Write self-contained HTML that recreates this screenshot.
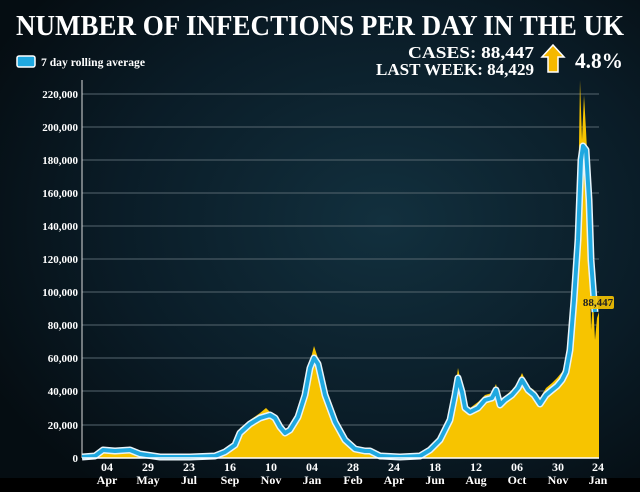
<!DOCTYPE html>
<html><head><style>
html,body{margin:0;padding:0;}
body{width:640px;height:492px;overflow:hidden;background:#000;}
svg{display:block;}
text{font-family:"Liberation Serif",serif;font-weight:bold;}
</style></head><body>
<svg width="640" height="492" viewBox="0 0 640 492">
<defs>
<radialGradient id="bg" cx="0.6" cy="0.45" r="0.7">
<stop offset="0" stop-color="#12303e"/>
<stop offset="0.6" stop-color="#0a1c27"/>
<stop offset="1" stop-color="#050d12"/>
</radialGradient>
</defs>
<rect width="640" height="492" fill="url(#bg)"/>
<rect y="478" width="640" height="14" fill="#000"/>
<text x="320" y="35" text-anchor="middle" fill="#fff" font-size="29" textLength="608" lengthAdjust="spacingAndGlyphs">NUMBER OF INFECTIONS PER DAY IN THE UK</text>
<text x="534" y="58" text-anchor="end" fill="#fff" font-size="17" textLength="126" lengthAdjust="spacingAndGlyphs">CASES: 88,447</text>
<text x="534" y="75" text-anchor="end" fill="#fff" font-size="17" textLength="158" lengthAdjust="spacingAndGlyphs">LAST WEEK: 84,429</text>
<path d="M553,45 L564,57 L558,57 L558,72 L548,72 L548,57 L542,57 Z" fill="#f5b800" stroke="#fff" stroke-width="1.5"/>
<text x="575" y="68" fill="#fff" font-size="22" textLength="48" lengthAdjust="spacingAndGlyphs">4.8%</text>
<rect x="17" y="56" width="18" height="11" rx="2" fill="#1fa8e0" stroke="#fff" stroke-width="1.5"/>
<text x="41" y="66" fill="#fff" font-size="12" textLength="104" lengthAdjust="spacingAndGlyphs">7 day rolling average</text>
<g stroke="#56666f" stroke-width="1">
<line x1="82" y1="94" x2="599" y2="94"/><line x1="82" y1="127" x2="599" y2="127"/>
<line x1="82" y1="160" x2="599" y2="160"/><line x1="82" y1="193" x2="599" y2="193"/>
<line x1="82" y1="226" x2="599" y2="226"/><line x1="82" y1="259" x2="599" y2="259"/>
<line x1="82" y1="292" x2="599" y2="292"/><line x1="82" y1="325" x2="599" y2="325"/>
<line x1="82" y1="358" x2="599" y2="358"/><line x1="82" y1="391" x2="599" y2="391"/>
<line x1="82" y1="425" x2="599" y2="425"/>
</g>
<line x1="82" y1="80" x2="82" y2="458" stroke="#ddd" stroke-width="1"/>
<g fill="#fff" font-size="11" text-anchor="end">
<text x="78" y="98">220,000</text><text x="78" y="131">200,000</text>
<text x="78" y="164">180,000</text><text x="78" y="197">160,000</text>
<text x="78" y="230">140,000</text><text x="78" y="263">120,000</text>
<text x="78" y="296">100,000</text><text x="78" y="329">80,000</text>
<text x="78" y="362">60,000</text><text x="78" y="395">40,000</text>
<text x="78" y="429">20,000</text><text x="78" y="462">0</text>
</g>
<path d="M82,458 L82,456 L95,455 L103,447 L115,448 L130,447 L140,453 L160,456 L190,456 L215,455 L225,450 L235,441 L240,428 L250,420 L260,413 L266,408 L270,412 L275,415 L280,425 L285,431 L290,427 L298,412 L305,390 L310,362 L314,346 L318,358 L325,392 L335,420 L345,438 L355,448 L365,449 L370,449 L380,455 L400,456 L420,455 L430,448 L440,437 L450,416 L455,390 L458,368 L462,388 L465,405 L470,408 L478,402 L485,395 L492,393 L496,384 L500,402 L505,396 L512,390 L518,382 L522,373 L528,386 L534,390 L540,398 L546,388 L552,383 L557,378 L562,372 L566,362 L570,335 L574,280 L578,210 L580,80 L582,140 L584,95 L586,130 L589,190 L591,330 L593,300 L595,340 L597,318 L599,312 L599,458 Z" fill="#f7c400"/>
<path d="M82,457 L95,456 L103,450 L115,451 L130,450 L140,454 L160,457 L190,457 L215,456 L225,452 L235,445 L240,433 L250,424 L260,418 L270,415 L275,418 L280,427 L285,433 L290,430 L298,417 L305,395 L310,368 L314,358 L318,364 L325,395 L335,422 L345,440 L355,449 L365,451 L370,451 L380,456 L400,457 L420,456 L430,450 L440,440 L450,420 L455,395 L458,378 L462,392 L465,408 L470,412 L478,408 L485,400 L492,398 L496,390 L500,405 L505,400 L512,395 L518,388 L522,380 L528,390 L534,395 L540,404 L546,395 L552,390 L557,386 L562,380 L566,372 L570,350 L574,300 L578,240 L581,160 L583,146 L586,150 L589,200 L591,260 L594,300 L595,312" fill="none" stroke="#e8f4fa" stroke-width="7" stroke-linejoin="round"/>
<path d="M82,457 L95,456 L103,450 L115,451 L130,450 L140,454 L160,457 L190,457 L215,456 L225,452 L235,445 L240,433 L250,424 L260,418 L270,415 L275,418 L280,427 L285,433 L290,430 L298,417 L305,395 L310,368 L314,358 L318,364 L325,395 L335,422 L345,440 L355,449 L365,451 L370,451 L380,456 L400,457 L420,456 L430,450 L440,440 L450,420 L455,395 L458,378 L462,392 L465,408 L470,412 L478,408 L485,400 L492,398 L496,390 L500,405 L505,400 L512,395 L518,388 L522,380 L528,390 L534,395 L540,404 L546,395 L552,390 L557,386 L562,380 L566,372 L570,350 L574,300 L578,240 L581,160 L583,146 L586,150 L589,200 L591,260 L594,300 L595,312" fill="none" stroke="#1fa8e0" stroke-width="4" stroke-linejoin="round"/>
<rect x="582" y="296" width="32" height="13" rx="2" fill="#f7c400" opacity="0.9"/>
<text x="598" y="306" text-anchor="middle" fill="#222" font-size="11">88,447</text>
<line x1="82" y1="458" x2="599" y2="458" stroke="#fff" stroke-width="1.5"/>
<g fill="#fff" font-size="12" text-anchor="middle">
<text x="107" y="471">04</text><text x="107" y="484">Apr</text>
<text x="148" y="471">29</text><text x="148" y="484">May</text>
<text x="189" y="471">23</text><text x="189" y="484">Jul</text>
<text x="230" y="471">16</text><text x="230" y="484">Sep</text>
<text x="271" y="471">10</text><text x="271" y="484">Nov</text>
<text x="312" y="471">04</text><text x="312" y="484">Jan</text>
<text x="353" y="471">28</text><text x="353" y="484">Feb</text>
<text x="394" y="471">24</text><text x="394" y="484">Apr</text>
<text x="435" y="471">18</text><text x="435" y="484">Jun</text>
<text x="476" y="471">12</text><text x="476" y="484">Aug</text>
<text x="517" y="471">06</text><text x="517" y="484">Oct</text>
<text x="558" y="471">30</text><text x="558" y="484">Nov</text>
<text x="598" y="471">24</text><text x="598" y="484">Jan</text>
</g>
</svg>
</body></html>
